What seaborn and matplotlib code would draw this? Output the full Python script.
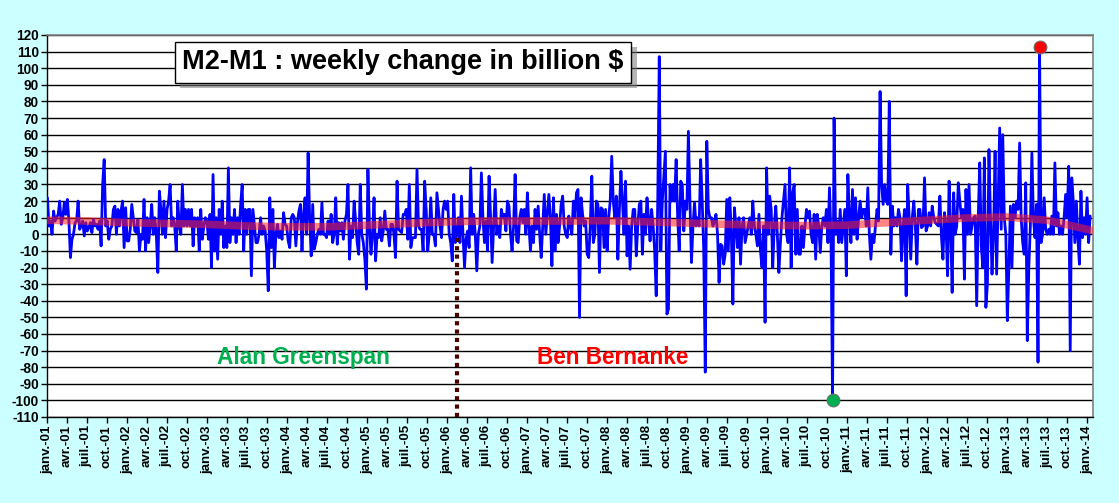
import numpy as np
import pandas as pd
import matplotlib
matplotlib.use('Agg')
import matplotlib.pyplot as plt
import matplotlib.dates as mdates
import matplotlib.patheffects as pe
import seaborn as sns

# ---- weekly change of M2-M1 (billion $), one list per year ----
w2001 = [22, 5, 8, 0, 14, 8, 10, 12, 20, 6, 10, 19, 12, 21, 8, -14, -3, 0, 7, 8,
         20, 3, 5, 8, -1, 7, 2, 4, 7, 1, 9, 5, 6, 3, 8, -7, 30, 45, 5, 8,
         -3, 3, 5, 15, 17, 0, 15, 5, 14, 20, -8, 16]
w2002 = [-4, -4, 3, 18, 10, 2, 1, 9, -10, 0, -3, 21, -10, 10, -5, 5, 18, 0, 10, 0,
         -23, 26, 15, 0, 20, -2, 15, 20, 30, 5, 10, 5, -10, 20, 5, 0, 30, 5, 15, 5,
         15, 5, 15, -7, 10, 5, 10, -10, 15, -3, 5, 10]
w2003 = [8, -3, 12, -20, 36, -10, 10, -15, 15, 0, 20, -8, 5, -8, 40, -5, 10, 0, 15, -5,
         10, 0, 18, 30, -10, 15, 0, 15, 15, -25, 15, 5, -5, -5, 0, 10, 0, 5, 2, -10,
         -34, 22, -8, 15, -20, 0, 6, -2, 2, -3, 13, 6]
w2004 = [5, -4, -8, 10, 12, 10, -7, 7, 14, 18, -10, 12, 22, 0, 49, 10, -13, 18, -9, -5,
         0, 3, 0, 19, 0, 0, -2, 8, 0, 12, -5, 0, 22, -6, 7, 2, 7, -3, 8, 12,
         30, -15, 5, -2, 20, 8, -5, -12, 30, 0, -5, -15]
w2005 = [-33, 39, 5, -12, 0, 22, -16, 0, -2, 10, -4, 2, 14, 3, 3, -7, 6, 6, 0, -14,
         32, 3, 2, 1, 12, 12, 15, -3, 30, -8, -2, -2, -2, 39, 5, 3, 3, -10, 32, 15,
         -10, 0, 22, 0, 0, -7, 25, 15, 5, -2, 15, 20]
w2006 = [15, 20, 0, -5, -16, 24, -5, 0, 10, -5, 23, 0, -20, -3, 2, -8, 40, 0, 12, 0,
         -22, 0, 5, 37, 10, -5, 8, -10, 35, 10, -17, 5, 27, 0, 5, -2, 15, 10, 12, 2,
         20, 17, 0, -10, 5, 36, -4, -5, 10, 15, 7, 15]
w2007 = [0, 25, 5, -10, 5, -5, 15, 3, 17, 0, -14, 5, 24, 0, 12, 24, 10, -19, 22, -10,
         12, -5, 5, 18, 23, 5, 0, -2, 11, 5, 0, 20, 10, 25, 27, -50, 22, 12, 5, 8,
         -12, -14, 5, 35, -5, 0, 20, 18, -23, 16, 15, -8]
w2008 = [15, -10, 10, 20, 47, 20, 10, 23, -15, 15, 38, 20, 0, 32, -13, 5, -21, 5, 15, 15,
         -13, 5, 18, 20, -12, 12, 0, 22, 10, -4, 15, 5, -10, -37, 20, 107, -10, 20, 35, 50,
         -48, -45, 30, 20, 30, 20, 45, 10, -10, 32, 30, 2]
w2009 = [20, 15, 62, 20, -17, 5, 19, 5, 10, 5, 45, 20, -10, -83, 56, 15, 10, 10, 5, 8,
         12, 0, -29, -6, -7, -18, -12, 21, -10, 22, 0, -42, 16, 5, -8, 10, -18, 5, 10, -5,
         0, 5, 10, 0, 20, 5, 0, -7, 12, -10, -20, 5]
w2010 = [-53, 40, 0, 23, 15, -20, 5, 17, 0, -23, -5, 10, 20, 30, 0, -5, 40, -20, 25, 30,
         -12, 15, -12, -12, 5, -8, 5, 15, 10, 14, 0, -5, 12, -15, 12, 5, -11, 5, 10, 5,
         15, -5, 28, -2, -100, 70, 0, 8, -5, 15, -5, 5]
w2011 = [15, -25, 36, 10, -5, 27, 0, 22, -3, 10, 20, 10, 15, 15, 5, 28, 0, -15, 0, -5,
         5, 15, 8, 86, 30, 18, 30, 20, 18, 80, -12, 17, 5, 10, 5, 15, 10, -16, 5, 15,
         -37, 30, 10, -15, 10, 20, 5, -18, 15, 15, 4, 5]
w2012 = [34, 2, 5, 13, 5, 17, 10, 7, 6, 5, 23, -1, -15, 13, 5, -25, 32, 5, -35, 25,
         0, 5, 31, 20, 10, 15, -27, 27, 0, 30, 0, 5, 10, 11, -43, 10, 43, -7, -20, 46,
         -44, -30, 51, 10, -24, 0, 50, -24, 20, 64, 3, 60]
w2013 = [10, 0, -52, -20, 17, -20, 18, 10, 20, 15, 55, 10, -5, -12, 31, -64, -20, 5, 49, 10,
         -2, 18, -77, 113, -5, 0, 22, 3, 0, 3, 0, 11, 0, 43, 5, 13, 0, 5, 0, 10,
         24, 10, 41, -70, 34, 20, -5, 20, -3, -18, 26, -2]
w2014 = [10, 0, 22, -5, 11]

# ---- smoothed trend (thick red band), read at half-year points ----
trend_dates = ['2001-01-01', '2001-07-01', '2002-01-01', '2002-07-01', '2003-01-01',
               '2003-07-01', '2004-01-01', '2004-07-01', '2005-01-01', '2005-07-01',
               '2006-01-01', '2006-07-01', '2007-01-01', '2007-07-01', '2008-01-01',
               '2008-07-01', '2009-01-01', '2009-07-01', '2010-01-01', '2010-07-01',
               '2011-01-01', '2011-07-01', '2012-01-01', '2012-07-01', '2013-01-01',
               '2013-07-01', '2014-01-28']
trend_values = [8.5, 8, 7, 6.5, 6, 5, 4.5, 4.5, 5.5, 6.5,
                7.5, 8, 8, 8, 8.2, 7.5, 6.8, 6, 5.5, 5.2,
                5.5, 7, 8.5, 9.8, 10.4, 8.5, 2.2]

month_names = ['janv.', 'avr.', 'juil.', 'oct.']
y_ticks = list(range(-110, 121, 10))

title_text = 'M2-M1 : weekly change in billion $'
greenspan_label = 'Alan Greenspan'
bernanke_label = 'Ben Bernanke'
bernanke_start = '2006-02-15'
greenspan_text_at = ('2003-02-15', -74)
bernanke_text_at = ('2007-02-15', -74)

# ---- build data ----
values = (w2001 + w2002 + w2003 + w2004 + w2005 + w2006 + w2007 + w2008 + w2009 +
          w2010 + w2011 + w2012 + w2013 + w2014)
dates = pd.date_range('2001-01-03', periods=len(values), freq='7D')
df = pd.DataFrame({'date': dates, 'change': values})
trend = pd.DataFrame({'date': pd.to_datetime(trend_dates), 'value': trend_values})

sns.set_theme(style='white')
plt.rcParams['font.family'] = ['Liberation Sans', 'DejaVu Sans']

W, H = 1119, 503
fig = plt.figure(figsize=(W / 100, H / 100), dpi=100, facecolor='#CCFFFF')
ax = fig.add_axes([47 / W, 86 / H, 1046 / W, 382 / H])
ax.set_facecolor('white')

sns.lineplot(data=df, x='date', y='change', ax=ax, color='#0000FF', lw=2.0,
             estimator=None, sort=False, zorder=3)
sns.lineplot(data=trend, x='date', y='value', ax=ax, color='#FF2020', lw=5.5,
             alpha=0.55, estimator=None, sort=False, zorder=4)

imin = df['change'].idxmin()
imax = df['change'].idxmax()
sns.scatterplot(data=df.loc[[imin]], x='date', y='change', ax=ax, color='#00B050',
                s=85, edgecolor='#6f6f6f', linewidth=0.8, zorder=6)
sns.scatterplot(data=df.loc[[imax]], x='date', y='change', ax=ax, color='#FF0000',
                s=85, edgecolor='#6f6f6f', linewidth=0.8, zorder=6)

# Bernanke start marker
ax.vlines(mdates.date2num(pd.Timestamp(bernanke_start)), -110, -2, colors='#4A0000',
          linestyles=(0, (1, 1)), lw=3, zorder=5)

# axes
ax.set_xlim(pd.Timestamp('2001-01-01'), pd.Timestamp('2014-01-28'))
ax.set_ylim(-110, 120)
xt = pd.date_range('2001-01-01', '2014-01-01', freq='QS')
xlabels = [f"{month_names[(d.month - 1) // 3]}-{d.strftime('%y')}" for d in xt]
ax.set_xticks(xt)
ax.set_xticklabels(xlabels, rotation=90, fontweight='bold', fontsize=9.5, color='black')
ax.set_yticks(y_ticks)
ax.set_yticklabels([str(v) for v in y_ticks], fontweight='bold', fontsize=9.8, color='black')
ax.tick_params(axis='both', direction='out', length=4, width=1, color='black', pad=2,
               bottom=True, left=True)
ax.yaxis.grid(True, color='black', lw=1)
ax.xaxis.grid(False)
ax.set_axisbelow(True)
ax.set_xlabel('')
ax.set_ylabel('')
for s in ['left', 'bottom']:
    ax.spines[s].set_color('black')
    ax.spines[s].set_linewidth(1)
for s in ['top', 'right']:
    ax.spines[s].set_color('#808080')
    ax.spines[s].set_linewidth(1.2)

# title box
t = ax.text(0.3405, 0.929, title_text, transform=ax.transAxes, ha='center', va='center',
            fontsize=19.5, fontweight='bold', color='black', zorder=10,
            bbox=dict(boxstyle='square,pad=0.28', fc='white', ec='black', lw=1))
t.get_bbox_patch().set_path_effects([
    pe.withSimplePatchShadow(offset=(4, -4), shadow_rgbFace='#7a7a7a', alpha=0.55)])

ax.text(mdates.date2num(pd.Timestamp(greenspan_text_at[0])), greenspan_text_at[1],
        greenspan_label, color='#00B050', fontsize=16.3, fontweight='bold',
        ha='left', va='center', zorder=8)
ax.text(mdates.date2num(pd.Timestamp(bernanke_text_at[0])), bernanke_text_at[1],
        bernanke_label, color='#FF0000', fontsize=16.3, fontweight='bold',
        ha='left', va='center', zorder=8)

fig.savefig('out.png', dpi=100, facecolor=fig.get_facecolor())
